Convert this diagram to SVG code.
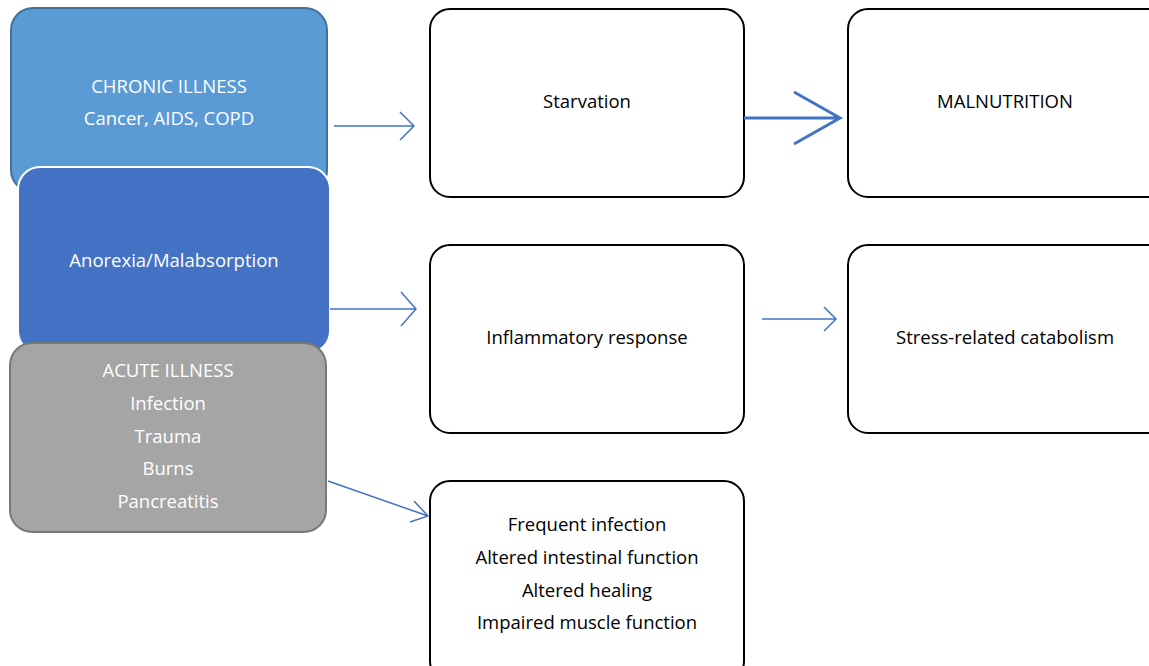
<svg xmlns="http://www.w3.org/2000/svg" width="1149" height="666" viewBox="0 0 1149 666">
<style>
text{font-family:"Open Sans","Noto Sans","Liberation Sans",sans-serif;font-size:18.5px;text-anchor:middle;dominant-baseline:middle}
.w{fill:#ffffff}
.k{fill:#000000}
.box{fill:#ffffff;stroke:#000000;stroke-width:2}
.c{fill:none;stroke:#4472C4;stroke-width:1.5}
</style>
<g id="chronic">
<rect x="11" y="8" width="316" height="184" rx="22" fill="#5B9BD5" stroke="#41719C" stroke-width="2"/>
<text class="w" x="169" y="88">CHRONIC ILLNESS</text>
<text class="w" x="169" y="120">Cancer, AIDS, COPD</text>
</g>
<g id="anorexia">
<rect x="18" y="167" width="312" height="186" rx="22" fill="#4472C4" stroke="#ffffff" stroke-width="2"/>
<text class="w" x="174" y="262">Anorexia/Malabsorption</text>
</g>
<g id="acute">
<rect x="10" y="343" width="316" height="189" rx="22" fill="#A5A5A5" stroke="#787878" stroke-width="2"/>
<text class="w" x="168" y="372">ACUTE ILLNESS</text>
<text class="w" x="168" y="405">Infection</text>
<text class="w" x="168" y="438">Trauma</text>
<text class="w" x="168" y="470">Burns</text>
<text class="w" x="168" y="503">Pancreatitis</text>
</g>
<g id="starvation">
<rect class="box" x="430" y="9" width="314" height="188" rx="20"/>
<text class="k" x="587" y="103">Starvation</text>
</g>
<g id="malnutrition">
<rect class="box" x="848" y="9" width="320" height="188" rx="20"/>
<text class="k" x="1005" y="103">MALNUTRITION</text>
</g>
<g id="inflammatory">
<rect class="box" x="430" y="245" width="314" height="188" rx="20"/>
<text class="k" x="587" y="339">Inflammatory response</text>
</g>
<g id="stress">
<rect class="box" x="848" y="245" width="320" height="188" rx="20"/>
<text class="k" x="1005" y="339">Stress-related catabolism</text>
</g>
<g id="effects">
<rect class="box" x="430" y="481" width="314" height="200" rx="20"/>
<text class="k" x="587" y="526">Frequent infection</text>
<text class="k" x="587" y="559">Altered intestinal function</text>
<text class="k" x="587" y="592">Altered healing</text>
<text class="k" x="587" y="624">Impaired muscle function</text>
</g>
<g id="connectors">
<path class="c" d="M334,126 H414 M400,112 L414,126 L400,140"/>
<path d="M744,118 H840 M794,92 L840,118 L794,144" fill="none" stroke="#4472C4" stroke-width="3"/>
<path class="c" d="M330,309 H416 M401,292 L416,309 L401,326"/>
<path class="c" d="M762,319 H836 M824,307 L836,319 L824,331"/>
<path class="c" d="M328,481 L428,516 M414,501 L428,516 L410,522" stroke-width="2"/>
</g>
</svg>
